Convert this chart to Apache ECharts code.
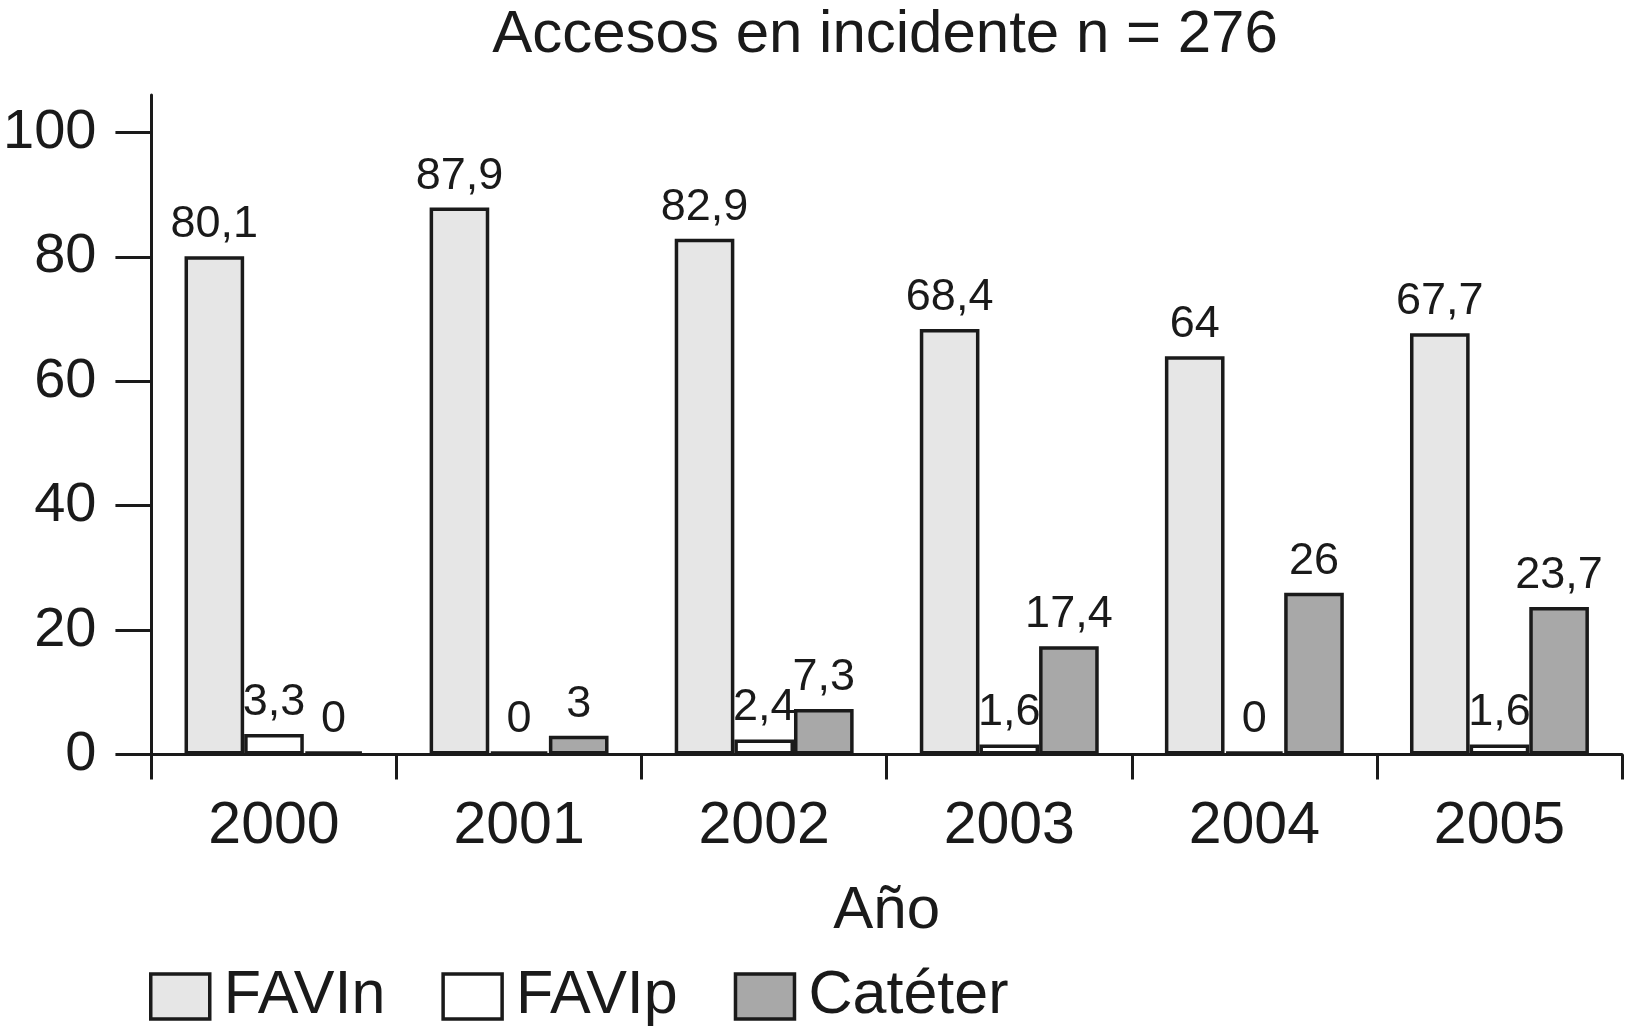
<!DOCTYPE html>
<html>
<head>
<meta charset="utf-8">
<script src="https://cdn.jsdelivr.net/npm/echarts@6/dist/echarts.min.js"></script>
<style>
html,body{margin:0;padding:0;background:#fff;}
#chart{width:1625px;height:1035px;}
</style>
</head>
<body>
<div id="chart"></div>
<script>
const years = ['2000', '2001', '2002', '2003', '2004', '2005'];
const favin = [80.1, 87.9, 82.9, 68.4, 64, 67.7];
const favip = [3.3, 0, 2.4, 1.6, 0, 1.6];
const cateter = [0, 3, 7.3, 17.4, 26, 23.7];
const yTicks = [0, 20, 40, 60, 80, 100];
const seriesNames = ['FAVIn', 'FAVIp', 'Catéter'];
const titleText = 'Accesos en incidente n = 276';
const xName = 'Año';

const FONT = '"Liberation Sans", Arial, Helvetica, sans-serif';
const INK = '#1a1a1a';
const fills = ['#e6e6e6', '#ffffff', '#a8a8a8'];

const chart = echarts.init(document.getElementById('chart'), null, {renderer: 'canvas'});

function mkSeries(name, data, color) {
  return {
    name: name,
    type: 'bar',
    data: data,
    barGap: '0%',
    barCategoryGap: '27%',
    barMinHeight: 3,
    itemStyle: {color: color, borderColor: INK, borderWidth: 3.5},
    label: {
      show: true,
      position: 'top',
      distance: 9,
      color: INK,
      fontFamily: FONT,
      fontSize: 45,
      formatter: p => String(p.value).replace('.', ',')
    },
    emphasis: {disabled: true},
    animation: false
  };
}

chart.setOption({
  animation: false,
  backgroundColor: '#ffffff',
  textStyle: {fontFamily: FONT, color: INK},
  title: {
    text: titleText,
    left: 881,
    textAlign: 'center',
    top: 1,
    padding: 4,
    textStyle: {fontFamily: FONT, fontSize: 60, fontWeight: 'normal', color: INK}
  },
  legend: {
    data: seriesNames,
    left: 144,
    top: 961,
    icon: 'rect',
    itemWidth: 59,
    itemHeight: 45,
    itemGap: 56,
    itemStyle: {borderColor: INK, borderWidth: 3.5},
    textStyle: {fontFamily: FONT, fontSize: 61, color: INK, padding: [0, 0, 0, 9]},
    selectedMode: false
  },
  grid: {left: 150, right: 3, top: 95, bottom: 280.5, containLabel: false},
  xAxis: {
    type: 'category',
    data: years,
    boundaryGap: true,
    name: xName,
    nameLocation: 'middle',
    nameGap: 127,
    nameTextStyle: {fontFamily: FONT, fontSize: 60, color: INK},
    axisLine: {show: true, lineStyle: {color: INK, width: 3}},
    axisTick: {show: true, alignWithLabel: false, length: 25, lineStyle: {color: INK, width: 3}},
    axisLabel: {fontFamily: FONT, fontSize: 59, color: INK, margin: 43},
    splitLine: {show: false}
  },
  yAxis: {
    type: 'value',
    min: 0,
    max: 106,
    axisLine: {show: true, lineStyle: {color: INK, width: 3}},
    axisTick: {show: true, length: 36, customValues: yTicks, lineStyle: {color: INK, width: 3}},
    axisLabel: {fontFamily: FONT, fontSize: 56, color: INK, margin: 55, customValues: yTicks},
    splitLine: {show: false}
  },
  series: [
    mkSeries(seriesNames[0], favin, fills[0]),
    mkSeries(seriesNames[1], favip, fills[1]),
    mkSeries(seriesNames[2], cateter, fills[2])
  ]
});
</script>
</body>
</html>
